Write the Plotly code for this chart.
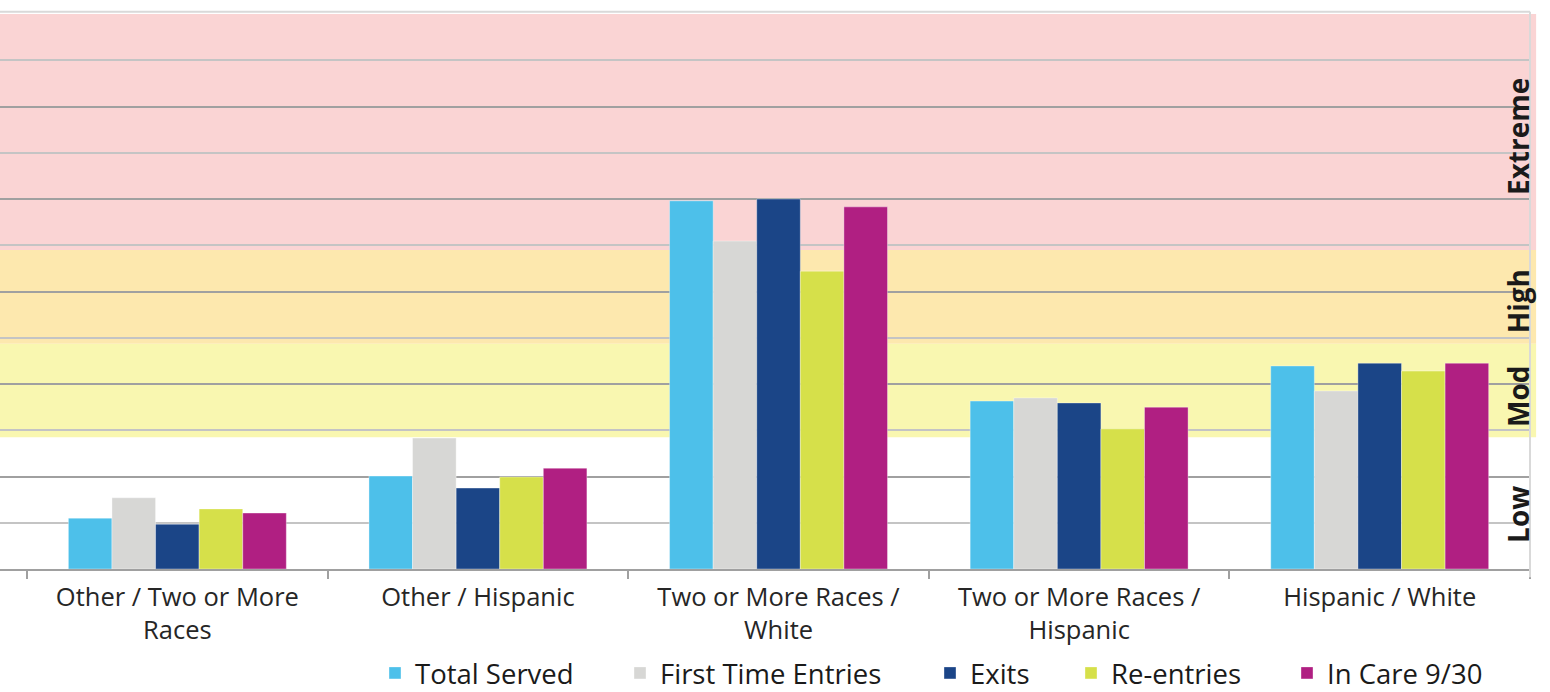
import plotly.graph_objects as go

categories = ["Other / Two or More<br>Races", "Other / Hispanic", "Two or More Races /<br>White",
              "Two or More Races /<br>Hispanic", "Hispanic / White"]
series_names = ["Total Served", "First Time Entries", "Exits", "Re-entries", "In Care 9/30"]
total_served = [1.10, 2.01, 7.96, 3.63, 4.39]
first_time_entries = [1.54, 2.83, 7.09, 3.70, 3.85]
exits = [0.97, 1.75, 8.00, 3.59, 4.45]
re_entries = [1.30, 1.99, 6.44, 3.03, 4.28]
in_care = [1.21, 2.18, 7.83, 3.50, 4.45]
series_values = [total_served, first_time_entries, exits, re_entries, in_care]
series_colors = ["#4dc0ea", "#d7d7d5", "#1b4587", "#d6e04a", "#b01f82"]

band_names = ["Low", "Mod", "High", "Extreme"]
band_edges = [0, 2.85, 4.87, 6.9, 12]
band_colors = ["rgba(0,0,0,0)", "#f9f7b0", "#fde8ae", "#fad4d4"]
band_label_y = [1.17, 3.72, 5.79, 9.34]

legend_x_px = [375, 620, 930, 1071, 1287]

W, H = 1550, 692
ML, MR, MT, MB = 0, 20, 14, 123
PW = W - ML - MR
PH = H - MT - MB

fig = go.Figure()
xs = list(range(len(categories)))
for i, (name, vals, col) in enumerate(zip(series_names, series_values, series_colors)):
    lg = "legend" if i == 0 else f"legend{i+1}"
    fig.add_trace(go.Bar(x=xs, y=vals, name=name, marker_color=col,
                         marker_line=dict(color="rgba(255,255,255,0.6)", width=0.6),
                         legend=lg))

shapes = []
for i in range(len(band_names)):
    if i == 0:
        continue
    shapes.append(dict(type="rect", xref="paper", yref="y", x0=0, x1=1.004,
                       y0=band_edges[i], y1=band_edges[i + 1],
                       fillcolor=band_colors[i], line_width=0, layer="below"))
# top and right borders
shapes.append(dict(type="line", xref="paper", yref="paper", x0=0, x1=1, y0=1.004, y1=1.004,
                   line=dict(color="#d9d9d9", width=2), layer="above"))
shapes.append(dict(type="line", xref="paper", yref="paper", x0=1, x1=1, y0=-0.015, y1=1.004,
                   line=dict(color="#d9d9d9", width=2), layer="above"))

annotations = []
for name, yv in zip(band_names, band_label_y):
    annotations.append(dict(text=name, xref="paper", yref="y", x=(1518 - ML) / PW, y=yv,
                            xanchor="center", yanchor="middle", textangle=-90, showarrow=False,
                            font=dict(family="Open Sans", size=28, color="#1a1a1a", weight="bold")))

layout_legends = {}
for i, px in enumerate(legend_x_px):
    key = "legend" if i == 0 else f"legend{i+1}"
    layout_legends[key] = dict(x=(px - ML) / PW, xanchor="left", y=-(673 - (MT + PH)) / PH,
                               yanchor="middle", orientation="h", bgcolor="rgba(0,0,0,0)",
                               font=dict(family="Open Sans", size=27.5, color="#1a1a1a"))

fig.update_layout(
    width=W, height=H,
    margin=dict(l=ML, r=MR, t=MT, b=MB, autoexpand=False),
    paper_bgcolor="white", plot_bgcolor="white",
    barmode="group", bargap=0.275, bargroupgap=0,
    showlegend=True,
    shapes=shapes, annotations=annotations,
    xaxis=dict(range=[-0.59, 4.5], tickmode="array", tickvals=xs, ticktext=categories,
               ticks="", showgrid=False, zeroline=False, showline=True, linecolor="#a0a0a0",
               linewidth=2, tickfont=dict(family="Open Sans", size=25.5, color="#262626"),
               minor=dict(tick0=-0.5, dtick=1, ticks="outside", ticklen=8, tickwidth=2,
                          tickcolor="#a0a0a0", showgrid=False),
               ticklabelstandoff=4, automargin=False),
    yaxis=dict(range=[0, 12], dtick=2, showticklabels=False, ticks="", gridcolor="#a0a0a0",
               gridwidth=2, zeroline=False, showline=False, automargin=False,
               minor=dict(dtick=1, showgrid=True, gridcolor="#c4c4c4", gridwidth=2)),
    **layout_legends,
)

fig.write_html("out.html")
